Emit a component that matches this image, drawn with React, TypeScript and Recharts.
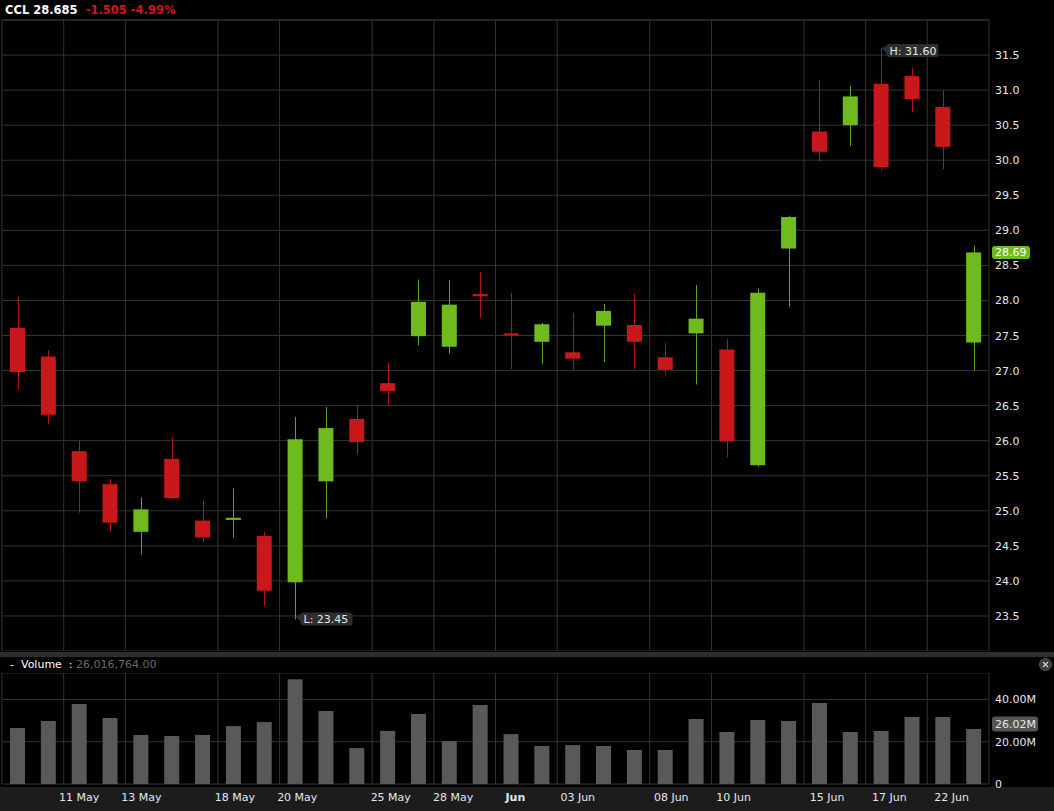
import { ComposedChart, BarChart, Bar, XAxis, YAxis, CartesianGrid, ReferenceLine } from 'recharts'

const SYMBOL = 'CCL'
const LAST = '28.685'
const CHANGE = '-1.505'
const CHANGE_PCT = '-4.99%'
const VOLUME_TEXT = '26,016,764.00'

const dates = [
  '07 May', '10 May', '11 May', '12 May', '13 May', '14 May', '17 May', '18 May',
  '19 May', '20 May', '21 May', '24 May', '25 May', '26 May', '28 May', '31 May',
  '01 Jun', '02 Jun', '03 Jun', '04 Jun', '07 Jun', '08 Jun', '09 Jun', '10 Jun',
  '11 Jun', '14 Jun', '15 Jun', '16 Jun', '17 Jun', '18 Jun', '22 Jun', '23 Jun',
]
const opens = [
  27.61, 27.2, 25.85, 25.38, 24.7, 25.74, 24.86, 24.87, 24.64, 23.98, 25.42, 26.31,
  26.82, 27.49, 27.34, 28.09, 27.53, 27.41, 27.26, 27.64, 27.65, 27.19, 27.53, 27.3,
  25.65, 28.74, 30.41, 30.5, 31.09, 31.2, 30.76, 27.4,
]
const highs = [
  28.05, 27.29, 26.0, 25.45, 25.19, 26.04, 25.14, 25.32, 24.7, 26.34, 26.48, 26.51,
  27.11, 28.3, 28.29, 28.41, 28.11, 27.68, 27.82, 27.95, 28.1, 27.39, 28.22, 27.45,
  28.17, 29.21, 31.14, 31.06, 31.6, 31.32, 31.0, 28.78,
]
const lows = [
  26.73, 26.24, 24.97, 24.71, 24.38, 25.17, 24.56, 24.62, 23.64, 23.45, 24.89, 25.81,
  26.5, 27.36, 27.24, 27.75, 27.02, 27.1, 27.01, 27.12, 27.02, 26.93, 26.8, 25.76,
  25.63, 27.91, 29.98, 30.2, 29.86, 30.69, 29.87, 27.0,
]
const closes = [
  26.98, 26.37, 25.42, 24.83, 25.02, 25.18, 24.62, 24.9, 23.86, 26.02, 26.18, 25.98,
  26.71, 27.98, 27.94, 28.06, 27.51, 27.66, 27.17, 27.85, 27.41, 27.01, 27.74, 25.99,
  28.11, 29.19, 30.12, 30.91, 29.9, 30.87, 30.19, 28.685,
]
const volumes = [
  26.5e6, 29.8e6, 37.8e6, 31.2e6, 23.2e6, 22.7e6, 23.2e6, 27.4e6, 29.3e6, 49.6e6, 34.5e6, 17.0e6,
  25.1e6, 33.1e6, 20.3e6, 37.4e6, 23.6e6, 18.0e6, 18.4e6, 18.0e6, 16.1e6, 16.1e6, 30.7e6, 24.6e6,
  30.3e6, 29.8e6, 38.3e6, 24.6e6, 25.1e6, 31.7e6, 31.7e6, 26016764,
]

const tickDates = ['11 May', '13 May', '18 May', '20 May', '25 May', '28 May', '01 Jun', '03 Jun', '08 Jun', '10 Jun', '15 Jun', '17 Jun', '22 Jun']
const priceTicks = [23.5, 24, 24.5, 25, 25.5, 26, 26.5, 27, 27.5, 28, 28.5, 29, 29.5, 30, 30.5, 31, 31.5]
const volumeTicks = [0, 20e6, 40e6]

const UP = '#6fbb1f'
const UP_WICK = '#5fa318'
const DOWN = '#c8181b'
const DOWN_WICK = '#b01518'
const GRID = '#333333'
const TEXT = '#e2e8f0'
const FONT = '"DejaVu Sans", Verdana, sans-serif'

// slot = centre of each candle's day on a 0..N scale, used by the hidden grid axis
const data = dates.map((date, i) => ({
  date, slot: i + 0.5, open: opens[i], high: highs[i], low: lows[i], close: closes[i], volume: volumes[i],
}))
const gridTicks = [0, ...tickDates.map(d => dates.indexOf(d))]
const maxHigh = Math.max(...highs)
const minLow = Math.min(...lows)
const fmt2 = (v: number) => (v + 1e-9).toFixed(2)

function Marker({ x, y, text }: { x: number; y: number; text: string }) {
  return (
    <g>
      <polygon points={`${x},${y} ${x + 7},${y - 3} ${x + 7},${y + 7}`} fill="#2e2e2e" />
      <rect x={x + 5} y={y - 4} width={52} height={13} rx={2} fill="#2e2e2e" />
      <text x={x + 8} y={y + 6.5} fill={TEXT} fontSize={11} fontFamily={FONT}>{text}</text>
    </g>
  )
}

function Candle(props: any) {
  const { x, y, width, height, payload } = props
  const { open, high, low, close } = payload
  const toY = (v: number) => y + ((high - v) / (high - low)) * height
  const up = close >= open
  const cx = Math.round(x + width / 2) + 0.5
  const top = Math.min(toY(open), toY(close))
  const h = Math.max(2, Math.abs(toY(open) - toY(close)))
  return (
    <g>
      <line x1={cx} x2={cx} y1={y} y2={y + height} stroke={up ? UP_WICK : DOWN_WICK} strokeWidth={1} />
      <rect x={x} y={top} width={width} height={h} fill={up ? UP : DOWN} />
      {high === maxHigh && <Marker x={cx} y={y} text={`H: ${fmt2(high)}`} />}
      {low === minLow && <Marker x={cx} y={y + height - 3} text={`L: ${fmt2(low)}`} />}
    </g>
  )
}

function PriceTick({ x, y, payload }: any) {
  return (
    <text x={x} y={y} dy={4} fill={TEXT} fontSize={11} fontFamily={FONT} textAnchor="start">
      {payload.value.toFixed(1)}
    </text>
  )
}

function VolumeTick({ x, y, payload }: any) {
  const v = payload.value
  return (
    <text x={x} y={y} dy={4} fill={TEXT} fontSize={11} fontFamily={FONT} textAnchor="start">
      {v === 0 ? '0' : `${(v / 1e6).toFixed(2)}M`}
    </text>
  )
}

function DateTick({ x, y, payload }: any) {
  const v = payload.value
  if (!tickDates.includes(v)) return <g />
  const month = v === '01 Jun'
  return (
    <text x={x + (x - 79) * 0.0104} y={y} dy={9} fill={TEXT} fontSize={11} fontFamily={FONT}
      textAnchor="middle" fontWeight={month ? 'bold' : 'normal'}>
      {month ? 'Jun' : v}
    </text>
  )
}

function PriceTag({ viewBox }: any) {
  const x = viewBox.x + viewBox.width
  const y = viewBox.y
  return (
    <g>
      <rect x={x + 3} y={y - 6.5} width={38} height={13} rx={3} fill={UP} />
      <text x={x + 6} y={y + 4} fill="#ffffff" fontSize={11} fontFamily={FONT}>{fmt2(closes[closes.length - 1])}</text>
    </g>
  )
}

function VolumeTag({ viewBox }: any) {
  const x = viewBox.x + viewBox.width
  const y = viewBox.y - 5
  return (
    <g>
      <rect x={x + 3} y={y - 7.5} width={46} height={15} rx={3} fill="#555555" />
      <text x={x + 6} y={y + 4} fill={TEXT} fontSize={11} fontFamily={FONT}>
        {`${(volumes[volumes.length - 1] / 1e6).toFixed(2)}M`}
      </text>
    </g>
  )
}

export default function App() {
  return (
    <div style={{ position: 'relative', width: 1054, height: 811, background: '#000', fontFamily: FONT, overflow: 'hidden' }}>
      <style>{'body{margin:0;background:#000}'}</style>

      <div style={{ position: 'absolute', left: 5, top: 3, fontSize: 11.5, lineHeight: '14px', fontWeight: 'bold', whiteSpace: 'pre' }}>
        <span style={{ color: '#ffffff' }}>{SYMBOL} {LAST}</span>
        <span style={{ color: '#d0161b' }}>{'  '}{CHANGE} {CHANGE_PCT}</span>
      </div>

      <div style={{ position: 'absolute', left: 0, top: 0 }}>
        <ComposedChart width={1054} height={651} data={data} margin={{ top: 20, right: 0, bottom: 0, left: 2 }}>
          <XAxis dataKey="date" hide />
          <XAxis xAxisId="grid" dataKey="slot" type="number" domain={[0, dates.length]} ticks={gridTicks} allowDataOverflow hide />
          <YAxis orientation="right" width={65} domain={[23, 32]} ticks={priceTicks} tick={<PriceTick />}
            axisLine={false} tickLine={false} tickMargin={0} tickSize={6} interval={0} />
          <CartesianGrid xAxisId="grid" stroke={GRID} />
          <ReferenceLine y={32} stroke={GRID} />
          <ReferenceLine y={closes[closes.length - 1]} stroke="none" label={<PriceTag />} />
          <Bar dataKey={(d: any) => [d.low, d.high]} barSize={15} shape={<Candle />} isAnimationActive={false} />
        </ComposedChart>
      </div>

      <div style={{ position: 'absolute', left: 0, top: 652, width: 1054, height: 5, background: '#2e2e2e' }} />

      <div style={{ position: 'absolute', left: 10, top: 658, fontSize: 11, lineHeight: '14px', whiteSpace: 'pre' }}>
        <span style={{ color: '#ffffff' }}>-  Volume  : </span>
        <span style={{ color: '#6a6a6a' }}>{VOLUME_TEXT}</span>
      </div>

      <svg style={{ position: 'absolute', left: 1039, top: 658 }} width={13} height={13}>
        <circle cx={6.5} cy={6.5} r={6} fill="#3a3a3a" stroke="#555" />
        <path d="M4 4 L9 9 M9 4 L4 9" stroke="#cfcfcf" strokeWidth={1.3} />
      </svg>

      <div style={{ position: 'absolute', left: 0, top: 787, width: 1054, height: 24, background: '#1c1c1c' }} />

      <div style={{ position: 'absolute', left: 0, top: 673 }}>
        <BarChart width={1054} height={138} data={data} margin={{ top: 0, right: 0, bottom: 0, left: 2 }} barCategoryGap={0}>
          <XAxis dataKey="date" height={27} interval={0} tick={<DateTick />} axisLine={false} tickLine={false} />
          <XAxis xAxisId="grid" dataKey="slot" type="number" domain={[0, dates.length]} ticks={gridTicks} allowDataOverflow hide />
          <YAxis orientation="right" width={65} domain={[0, 52.5e6]} ticks={volumeTicks} tick={<VolumeTick />}
            axisLine={false} tickLine={false} tickMargin={0} interval={0} />
          <CartesianGrid xAxisId="grid" stroke={GRID} />
          <ReferenceLine y={volumes[volumes.length - 1]} stroke="none" label={<VolumeTag />} />
          <Bar dataKey="volume" fill="#595959" barSize={15} isAnimationActive={false} />
        </BarChart>
      </div>
    </div>
  )
}
